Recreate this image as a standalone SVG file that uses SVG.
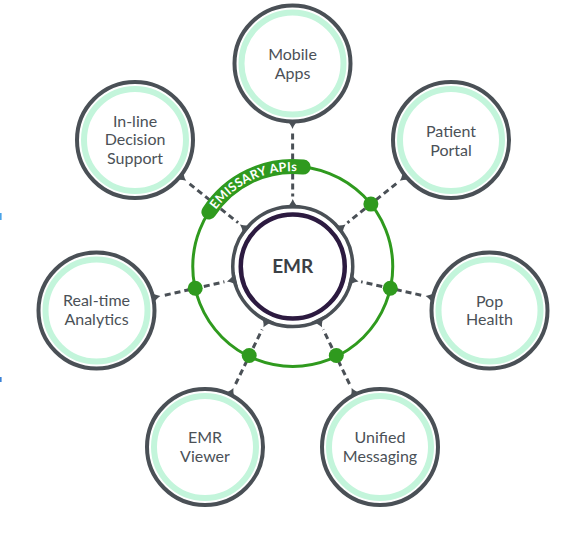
<svg xmlns="http://www.w3.org/2000/svg" xmlns:xlink="http://www.w3.org/1999/xlink" width="584" height="533" viewBox="0 0 584 533">
<style>
.ring{fill:#fff;stroke:#4a5056;stroke-width:4}
.mint{fill:none;stroke:#c3f5db;stroke-width:6}
.tri{fill:#4a5056}
.lbl{font-family:Lato,"Open Sans","Liberation Sans",sans-serif;font-size:16px;fill:#4b5157;text-anchor:middle}
.dash{stroke:#4a5056;stroke-width:3;stroke-dasharray:6 4;fill:none}
.dot{fill:#2f9a1e}
</style>
<defs>
<path id="tri" d="M-8 2 Q-3 0 0 -7.5 Q3 0 8 2 Z" class="tri"/>
<path id="bandText" d="M212.66 214.49 A95.5 95.5 0 0 1 302.73 171.52" fill="none"/>
</defs>
<rect width="584" height="533" fill="#fff"/>
<rect x="0" y="213" width="1.6" height="7" fill="#4aa3e8"/>
<rect x="0" y="377" width="1.6" height="5" fill="#3b82d6"/>

<g id="connectors">
<line class="dash" x1="292.6" y1="133.5" x2="292.7" y2="196.5"/>
<line class="dash" x1="396.3" y1="183.7" x2="347.4" y2="222.8"/>
<line class="dash" x1="421.2" y1="295.2" x2="361.1" y2="281.8"/>
<line class="dash" x1="349.5" y1="384" x2="323.2" y2="329.5"/>
<line class="dash" x1="235.6" y1="384" x2="262.1" y2="329.5"/>
<line class="dash" x1="164.8" y1="295.2" x2="224.4" y2="281.8"/>
<line class="dash" x1="189.6" y1="183.8" x2="238.1" y2="222.7"/>
</g>

<g id="api-ring">
<circle cx="292.75" cy="266.5" r="100" fill="none" stroke="#2f9a1e" stroke-width="3"/>
<circle class="dot" cx="370.9" cy="204.1" r="7.5"/>
<circle class="dot" cx="390.3" cy="288.3" r="7.5"/>
<circle class="dot" cx="336.3" cy="355.5" r="7.5"/>
<circle class="dot" cx="249.2" cy="355.5" r="7.5"/>
<circle class="dot" cx="195.2" cy="288.3" r="7.5"/>
<path d="M208.9 212.0 A100 100 0 0 1 303.2 167.05" fill="none" stroke="#2f9a1e" stroke-width="15" stroke-linecap="round"/>
<text font-family="Lato,'Open Sans','Liberation Sans',sans-serif" font-size="12.5" font-weight="700" fill="#fff" letter-spacing="0.4" text-anchor="middle"><textPath xlink:href="#bandText" href="#bandText" startOffset="50%">EMISSARY APIs</textPath></text>
</g>

<g id="emr">
<circle cx="292.75" cy="266.5" r="60" fill="#fff" stroke="#4a5056" stroke-width="3.5"/>
<g transform="translate(292.75 266.5)">
<use href="#tri" transform="rotate(0) translate(0 -60)"/>
<use href="#tri" transform="rotate(51.43) translate(0 -60)"/>
<use href="#tri" transform="rotate(102.86) translate(0 -60)"/>
<use href="#tri" transform="rotate(154.29) translate(0 -60)"/>
<use href="#tri" transform="rotate(205.71) translate(0 -60)"/>
<use href="#tri" transform="rotate(257.14) translate(0 -60)"/>
<use href="#tri" transform="rotate(308.57) translate(0 -60)"/>
</g>
<circle cx="292.75" cy="266.5" r="52" fill="#fff" stroke="#2c1a40" stroke-width="4.5"/>
<text x="292.75" y="273.3" font-family="Lato,'Open Sans','Liberation Sans',sans-serif" font-size="19" font-weight="700" fill="#3b4046" text-anchor="middle">EMR</text>
</g>

<g id="mobile-apps" transform="translate(292.5 63.5)">
<use href="#tri" transform="rotate(180) translate(0 -58)"/>
<circle class="ring" r="58"/>
<circle class="mint" r="51"/>
<text class="lbl" y="-3.5">Mobile</text>
<text class="lbl" y="15.5">Apps</text>
</g>

<g id="patient-portal" transform="translate(451 140)">
<use href="#tri" transform="rotate(231.43) translate(0 -58)"/>
<circle class="ring" r="58"/>
<circle class="mint" r="51"/>
<text class="lbl" y="-3">Patient</text>
<text class="lbl" y="16">Portal</text>
</g>

<g id="pop-health" transform="translate(489.5 310.5)">
<use href="#tri" transform="rotate(282.86) translate(0 -58)"/>
<circle class="ring" r="58"/>
<circle class="mint" r="51"/>
<text class="lbl" y="-4">Pop</text>
<text class="lbl" y="14.5">Health</text>
</g>

<g id="unified-messaging" transform="translate(380 447)">
<use href="#tri" transform="rotate(334.29) translate(0 -58)"/>
<circle class="ring" r="58"/>
<circle class="mint" r="51"/>
<text class="lbl" y="-3.7">Unified</text>
<text class="lbl" y="15.3">Messaging</text>
</g>

<g id="emr-viewer" transform="translate(205 447)">
<use href="#tri" transform="rotate(25.71) translate(0 -58)"/>
<circle class="ring" r="58"/>
<circle class="mint" r="51"/>
<text class="lbl" y="-3.7">EMR</text>
<text class="lbl" y="15.3">Viewer</text>
</g>

<g id="real-time-analytics" transform="translate(96.5 310.5)">
<use href="#tri" transform="rotate(77.14) translate(0 -58)"/>
<circle class="ring" r="58"/>
<circle class="mint" r="51"/>
<text class="lbl" y="-4.5">Real-time</text>
<text class="lbl" y="14">Analytics</text>
</g>

<g id="inline-decision-support" transform="translate(135 140)">
<use href="#tri" transform="rotate(128.57) translate(0 -58)"/>
<circle class="ring" r="58"/>
<circle class="mint" r="51"/>
<text class="lbl" y="-13.5">In-line</text>
<text class="lbl" y="5">Decision</text>
<text class="lbl" y="23.5">Support</text>
</g>
</svg>
